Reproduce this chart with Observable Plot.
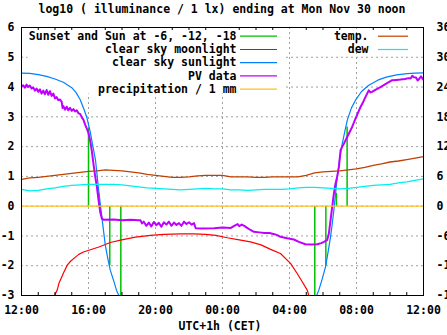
<!DOCTYPE html>
<html><head><meta charset="utf-8">
<script src="https://cdn.jsdelivr.net/npm/d3@7"></script>
<script src="https://cdn.jsdelivr.net/npm/@observablehq/plot@0.6"></script>
<style>
body{margin:0;background:#fff;width:447px;height:335px;overflow:hidden;font-family:"DejaVu Sans Mono",monospace;font-weight:bold;font-size:11.5px;color:#000;}
.t{height:18px;line-height:18px;width:444px;text-align:center;white-space:pre;}
.c{height:18px;line-height:18px;width:440px;text-align:center;white-space:pre;}
</style></head><body>
<div class="t" id="title"></div>
<div id="chart"></div>
<div class="c" id="xlabel"></div>
<script>
const titleText = "log10 ( illuminance / 1 lx) ending at Mon Nov 30 noon";
const xLabelText = "UTC+1h (CET)";
const xTicks = [0,4,8,12,16,20,24];
const xTickLabels = ["12:00","16:00","20:00","00:00","04:00","08:00","12:00"];
const yTicks = [-3,-2,-1,0,1,2,3,4,5,6];
const y2TickLabels = ["-18","-12","-6","0","6","12","18","24","30","36"];
const leftKey = ["Sunset and Sun at -6, -12, -18","clear sky moonlight","clear sky sunlight","PV data","precipitation / 1 mm"];
const rightKey = ["temp.","dew"];
const colors = {sun:"#00c000", moon:"#ff0000", clear:"#0080ff", pv:"#c000ff", precip:"#ffc020", temp:"#c04000", dew:"#00eeee"};

// Sunset and sun elevation markers (hours after 12:00, log10 lx)
const sunEventH = [4.0,4.62,5.27,5.93,17.51,18.17,18.8,19.44];
const sunEventV = [2.6,0.43,-2.0,-3,-3,-2.0,0.43,2.66];

// clear sky moonlight
const moonH = [1.97,2.13,2.23,2.5,2.73,2.93,3.2,3.42,3.7,4.02,4.62,5.3,5.91,6.8,7.7,8.5,9.49,10.3,11.0,11.6,12.28,13.0,13.67,14.3,14.87,15.46,16.06,16.46,16.76,17.06,17.15];
const moonV = [-3,-2.82,-2.6,-2.25,-1.98,-1.85,-1.72,-1.62,-1.54,-1.48,-1.37,-1.22,-1.14,-1.04,-0.98,-0.95,-0.93,-0.93,-0.95,-0.98,-1.06,-1.13,-1.2,-1.3,-1.45,-1.59,-1.92,-2.26,-2.54,-2.82,-3];

// clear sky sunlight
const sunEveH = [0,0.5,1.0,1.5,2.0,2.5,3.0,3.25,3.5,3.75,3.9,4.0,4.1,4.2,4.3,4.42,4.52,4.62,4.72,4.82,5.0,5.15,5.3,5.5,5.67,5.81];
const sunEveV = [4.47,4.46,4.42,4.36,4.27,4.16,3.98,3.82,3.58,3.22,2.98,2.74,2.5,2.2,1.9,1.54,1.0,0.45,0.0,-0.47,-1.3,-1.75,-2.15,-2.5,-2.82,-3];
const sunMornH = [17.62,17.75,17.95,18.15,18.3,18.45,18.55,18.65,18.75,18.85,19.0,19.15,19.3,19.45,19.7,19.94,20.3,20.73,21.3,21.83,22.4,23.03,23.5,24];
const sunMornV = [-3,-2.82,-2.45,-2.04,-1.55,-1.03,-0.6,-0.13,0.42,0.98,1.6,2.1,2.5,2.89,3.3,3.56,3.85,4.06,4.24,4.34,4.41,4.45,4.47,4.48];

// PV data
const pvH = [0,0.1,0.2,0.3,0.4,0.5,0.6,0.7,0.8,0.9,1.0,1.1,1.2,1.3,1.4,1.5,1.6,1.7,1.8,1.9,2.0,2.1,2.2,2.3,2.4,2.45,2.5,2.6,2.7,2.8,2.9,3.0,3.1,3.2,3.3,3.4,3.5,3.6,3.7,3.8,3.9,4.0,4.1,4.2,4.3,4.4,4.5,4.6,4.7,4.8,4.9,5.5,6.0,6.5,7.0,7.1,7.2,7.3,7.45,7.6,7.75,7.9,8.05,8.2,8.35,8.5,8.65,8.8,8.95,9.1,9.25,9.4,9.55,9.7,9.85,10.0,10.15,10.3,10.4,10.8,11.5,12.0,12.5,12.7,12.9,13.0,13.15,13.3,13.45,13.67,13.87,14.2,14.5,14.8,15.1,15.3,15.46,15.86,16.26,16.56,16.95,17.3,17.65,17.9,18.05,18.25,18.35,18.45,18.55,18.65,18.75,18.85,18.95,19.05,19.15,19.25,19.45,19.6,19.74,19.94,20.1,20.24,20.4,20.54,20.73,20.83,20.93,21.1,21.43,21.8,22.13,22.4,22.63,22.9,23.1,23.23,23.33,23.43,23.55,23.65,23.75,23.85,23.92,24];
const pvV = [4.02,4.06,3.98,4.08,4.00,4.05,3.95,3.99,3.88,3.95,3.84,3.92,3.78,3.88,3.76,3.90,3.74,3.86,3.70,3.78,3.62,3.66,3.56,3.58,3.50,3.30,3.36,3.24,3.34,3.22,3.30,3.20,3.26,3.18,3.22,3.12,3.10,2.98,2.90,2.74,2.60,2.45,2.20,1.85,1.40,1.00,0.65,0.20,-0.20,-0.42,-0.46,-0.45,-0.47,-0.46,-0.47,-0.47,-0.58,-0.52,-0.66,-0.55,-0.68,-0.53,-0.64,-0.56,-0.69,-0.54,-0.62,-0.52,-0.66,-0.55,-0.63,-0.57,-0.66,-0.52,-0.60,-0.54,-0.62,-0.57,-0.74,-0.75,-0.74,-0.72,-0.73,-0.66,-0.60,-0.67,-0.62,-0.66,-0.72,-0.80,-0.86,-0.88,-0.90,-0.90,-0.94,-0.98,-1.03,-1.08,-1.12,-1.20,-1.28,-1.29,-1.28,-1.24,-1.20,-1.14,-0.92,-0.47,-0.02,0.43,0.76,1.00,1.32,1.88,2.00,2.10,2.33,2.50,2.66,2.94,3.15,3.33,3.50,3.67,3.89,3.82,3.84,3.90,4.00,4.12,4.23,4.24,4.25,4.27,4.30,4.29,4.38,4.33,4.32,4.22,4.28,4.36,4.30,4.24];

// precipitation (mm)
const precipH = [0,6,12,18,24];
const precipMm = [0,0,0,0,0];

// temperature and dew point (deg C, right axis)
const obsH = [0,0.5,1,1.5,2,2.5,3,3.5,4,4.5,5,5.5,6,6.5,7,7.5,8,8.5,9,9.5,10,10.5,11,11.5,12,12.5,13,13.5,14,14.5,15,15.5,16,16.5,17,17.5,18,18.5,19,19.5,20,20.5,21,21.5,22,22.5,23,23.5,24];
const tempC = [5.4,5.7,5.8,6.0,6.2,6.4,6.6,6.8,7.0,7.1,7.3,7.2,7.1,6.9,6.7,6.4,6.2,6.0,5.8,5.8,5.9,6.1,6.2,6.2,6.2,5.9,5.9,5.9,5.8,5.8,5.9,5.9,5.9,5.9,6.2,6.7,6.9,7.0,7.1,7.3,7.5,7.8,8.2,8.5,8.9,9.1,9.4,9.7,10.0];
const dewC = [3.4,3.1,3.2,3.5,3.7,4.0,4.2,4.3,4.4,4.4,4.4,4.4,4.3,4.1,3.9,3.7,3.6,3.5,3.4,3.3,3.4,3.5,3.6,3.5,3.5,3.3,3.3,3.2,3.3,3.4,3.4,3.4,3.5,3.7,3.8,3.8,3.7,3.6,3.5,3.6,3.8,4.0,4.2,4.3,4.4,4.7,4.9,5.2,5.5];

const y2Factor = 6; // right axis units per left axis unit

const zip = (H, V) => H.map((h, i) => ({h, v: V[i]}));
const sunEvents = zip(sunEventH, sunEventV);
const moon = zip(moonH, moonV);
const sunEve = zip(sunEveH, sunEveV);
const sunMorn = zip(sunMornH, sunMornV);
const pv = zip(pvH, pvV);
const precip = zip(precipH, precipMm);
const temp = zip(obsH, tempC);
const dew = zip(obsH, dewC);
const minorHours = d3.range(1, 24).filter(h => h % 4 !== 0);

document.getElementById("title").textContent = titleText;
document.getElementById("xlabel").textContent = xLabelText;

const gridStyle = {stroke: "#a0a0a0", strokeOpacity: 1, strokeDasharray: "2,3", strokeWidth: 1};
const chart = Plot.plot({
  width: 447, height: 299,
  marginLeft: 21, marginRight: 24, marginTop: 9, marginBottom: 22,
  style: {fontFamily: "'DejaVu Sans Mono', monospace", fontSize: "11.5px", fontWeight: "bold", color: "black", background: "white"},
  x: {domain: [0, 24]},
  y: {domain: [-3, 6]},
  marks: [
    Plot.gridX({ticks: xTicks.slice(1, -1), ...gridStyle}),
    Plot.gridY({ticks: yTicks.slice(1, -1), ...gridStyle}),
    Plot.ruleX(sunEvents, {x: "h", y1: 0, y2: "v", stroke: colors.sun, strokeWidth: 1.5, clip: true}),
    Plot.line(moon, {x: "h", y: "v", stroke: colors.moon, strokeWidth: 1.2, clip: true}),
    Plot.line(sunEve, {x: "h", y: "v", stroke: colors.clear, strokeWidth: 1.2, clip: true}),
    Plot.line(sunMorn, {x: "h", y: "v", stroke: colors.clear, strokeWidth: 1.2, clip: true}),
    Plot.line(pv, {x: "h", y: "v", stroke: colors.pv, strokeWidth: 2, clip: true}),
    Plot.line(precip, {x: "h", y: "v", stroke: colors.precip, strokeWidth: 1.3}),
    Plot.line(temp, {x: "h", y: d => d.v / y2Factor, stroke: colors.temp, strokeWidth: 1.3}),
    Plot.line(dew, {x: "h", y: d => d.v / y2Factor, stroke: colors.dew, strokeWidth: 1.3}),
    Plot.ruleX(minorHours, {insetTop: 265, stroke: "black"}),
    Plot.ruleX(minorHours, {insetBottom: 265, stroke: "black"}),
    Plot.frame({stroke: "black", strokeWidth: 1}),
    Plot.axisY({anchor: "left", ticks: yTicks, tickSize: 0, tickPadding: 7, tickFormat: d => String(d), label: null}),
    Plot.axisY({anchor: "right", ticks: yTicks, tickSize: 0, tickPadding: 13, tickFormat: d => y2TickLabels[yTicks.indexOf(d)], label: null}),
    Plot.axisX({anchor: "bottom", ticks: xTicks, tickSize: 0, tickPadding: 10, tickFormat: d => xTickLabels[xTicks.indexOf(d)], label: null})
  ]
});
document.getElementById("chart").appendChild(chart);

// opaque key box (hides grid only, like the original)
const ns = "http://www.w3.org/2000/svg";
const grids = chart.querySelectorAll('[aria-label="y-grid"], [aria-label="x-grid"]');
const box = document.createElementNS(ns, "rect");
box.setAttribute("x", 27.5); box.setAttribute("y", 9.5);
box.setAttribute("width", 258); box.setAttribute("height", 66);
box.setAttribute("fill", "white");
grids[grids.length - 1].after(box);

// key entries
const key = d3.select(chart).append("g").attr("aria-label", "key");
const leftColors = [colors.sun, colors.moon, colors.clear, colors.pv, colors.precip];
const rowY = [17.7, 31.0, 44.2, 57.4, 70.6];
leftKey.forEach((label, i) => {
  key.append("text").attr("x", 236.5).attr("y", rowY[i]).attr("dy", "0.36em").attr("text-anchor", "end").attr("fill", "black").text(label);
  key.append("line").attr("x1", 240).attr("x2", 277).attr("y1", rowY[i] + 0.5).attr("y2", rowY[i] + 0.5).attr("stroke", leftColors[i]).attr("stroke-width", 1.2);
});
const rightColors = [colors.temp, colors.dew];
rightKey.forEach((label, i) => {
  key.append("text").attr("x", 368.5).attr("y", rowY[i]).attr("dy", "0.36em").attr("text-anchor", "end").attr("fill", "black").text(label);
  key.append("line").attr("x1", 378).attr("x2", 408).attr("y1", rowY[i] + 0.5).attr("y2", rowY[i] + 0.5).attr("stroke", rightColors[i]).attr("stroke-width", 1.2);
});
</script>
</body></html>
